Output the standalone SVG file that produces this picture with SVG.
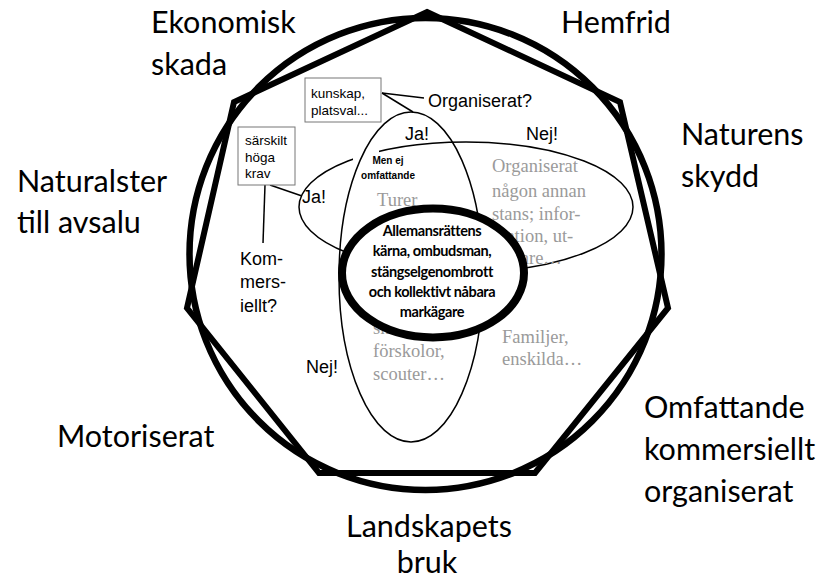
<svg xmlns="http://www.w3.org/2000/svg" width="831" height="580" viewBox="0 0 831 580">
<style>
.big{font-family:Lato,"Open Sans",sans-serif;font-size:30.5px;fill:#000}
.lab{font-family:"Liberation Sans",Arial,sans-serif;font-size:18px;fill:#000}
.box{font-family:"Liberation Sans",Arial,sans-serif;font-size:13.5px;fill:#000}
.gray{font-family:"Liberation Serif","Times New Roman",serif;font-size:18.5px;fill:#9a9a9a}
.core{font-family:Lato,"Open Sans",sans-serif;font-size:14.5px;font-weight:bold;letter-spacing:-0.4px;fill:#000;text-anchor:middle}
.small{font-family:"Liberation Sans",Arial,sans-serif;font-size:10px;font-weight:bold;fill:#000;text-anchor:middle}
.thin{fill:none;stroke:#000;stroke-width:1.5}
.conn{fill:none;stroke:#000;stroke-width:1.5}
.rectbox{fill:#fff;stroke:#777;stroke-width:1}
</style>
<g id="frame">
<circle cx="425.5" cy="254" r="236" fill="none" stroke="#000" stroke-width="6.5"/>
<polygon points="427,12 620,102 668,308 535,473 319,473 187,308 234,102" fill="none" stroke="#000" stroke-width="6" stroke-linejoin="miter"/>
</g>
<g id="outer-labels">
<g id="ekonomisk"><text class="big" x="151" y="33">Ekonomisk</text><text class="big" x="151" y="75">skada</text></g>
<g id="hemfrid"><text class="big" x="561" y="33">Hemfrid</text></g>
<g id="naturens"><text class="big" x="681" y="145">Naturens</text><text class="big" x="681" y="187">skydd</text></g>
<g id="naturalster"><text class="big" x="17" y="192">Naturalster</text><text class="big" x="17" y="233">till avsalu</text></g>
<g id="motoriserat"><text class="big" x="57" y="447">Motoriserat</text></g>
<g id="omfattande"><text class="big" x="644" y="418">Omfattande</text><text class="big" x="644" y="460">kommersiellt</text><text class="big" x="644" y="502">organiserat</text></g>
<g id="landskapets"><text class="big" x="429" y="537" text-anchor="middle">Landskapets</text><text class="big" x="427" y="573" text-anchor="middle">bruk</text></g>
</g>
<g id="horizontal-ellipse">
<ellipse class="thin" cx="466" cy="207" rx="167" ry="65"/>
<rect x="353" y="146" width="26" height="18" fill="#fff"/>
</g>
<g id="vertical-ellipse">
<ellipse class="thin" cx="411" cy="277" rx="72" ry="165"/>
</g>
<g id="gray-texts">
<text class="gray" x="492" y="172">Organiserat</text>
<text class="gray" x="492" y="197">någon annan</text>
<text class="gray" x="492" y="220">stans; infor-</text>
<text class="gray" x="492" y="242">mation, ut-</text>
<text class="gray" x="492" y="264">bildare…</text>
<text class="gray" x="377" y="206">Turer</text>
<text class="gray" x="373" y="334">skolor,</text>
<text class="gray" x="373" y="357">förskolor,</text>
<text class="gray" x="373" y="380">scouter…</text>
<text class="gray" x="502" y="343">Familjer,</text>
<text class="gray" x="502" y="365">enskilda…</text>
</g>
<g id="core">
<ellipse cx="433" cy="273" rx="91" ry="64.5" fill="#fff" stroke="#000" stroke-width="8"/>
<text class="core" x="432" y="236">Allemansrättens</text>
<text class="core" x="432" y="256">kärna, ombudsman,</text>
<text class="core" x="432" y="277">stängselgenombrott</text>
<text class="core" x="432" y="297">och kollektivt nåbara</text>
<text class="core" x="432" y="317">markägare</text>
</g>
<g id="connectors">
<line class="conn" x1="382" y1="93" x2="424" y2="98"/>
<line class="conn" x1="382" y1="93" x2="413" y2="112"/>
<line class="conn" x1="270" y1="185" x2="302" y2="196"/>
<line class="conn" x1="265" y1="185" x2="263" y2="243"/>
</g>
<g id="box-kunskap">
<rect class="rectbox" x="305" y="78" width="76" height="44"/>
<text class="box" x="311" y="98">kunskap,</text>
<text class="box" x="311" y="115">platsval...</text>
</g>
<g id="box-sarskilt">
<rect class="rectbox" x="238" y="127" width="57" height="58"/>
<text class="box" x="245" y="145">särskilt</text>
<text class="box" x="245" y="162">höga</text>
<text class="box" x="245" y="178">krav</text>
</g>
<g id="labels">
<text class="lab" x="428" y="107">Organiserat?</text>
<text class="lab" x="405" y="140">Ja!</text>
<text class="lab" x="526" y="140">Nej!</text>
<text class="lab" x="302" y="203">Ja!</text>
<text class="lab" x="240" y="265">Kom-</text>
<text class="lab" x="240" y="288">mers-</text>
<text class="lab" x="240" y="312">iellt?</text>
<text class="lab" x="306" y="373">Nej!</text>
<text class="small" x="388" y="164">Men ej</text>
<text class="small" x="388" y="179">omfattande</text>
</g>
</svg>
